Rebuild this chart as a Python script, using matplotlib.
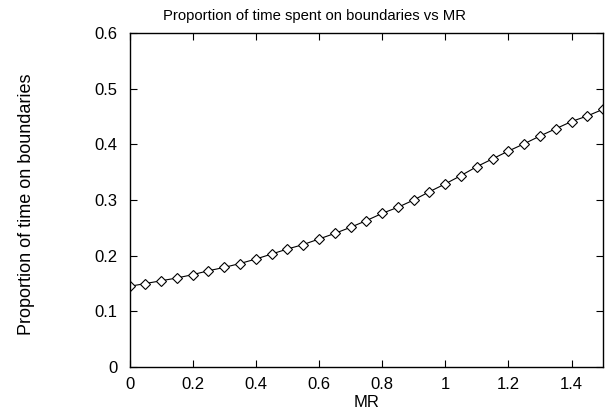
import matplotlib
matplotlib.use('Agg')
import matplotlib.pyplot as plt
import numpy as np

# MR values and measured proportion of time on boundaries
mr = [0.0, 0.05, 0.1, 0.15, 0.2, 0.25, 0.3, 0.35, 0.4, 0.45, 0.5,
      0.55, 0.6, 0.65, 0.7, 0.75, 0.8, 0.85, 0.9, 0.95, 1.0,
      1.05, 1.1, 1.15, 1.2, 1.25, 1.3, 1.35, 1.4, 1.45, 1.5]
proportion = [0.145, 0.150, 0.155, 0.160, 0.166, 0.173, 0.179, 0.186, 0.194, 0.203, 0.212,
              0.220, 0.230, 0.240, 0.251, 0.263, 0.276, 0.287, 0.300, 0.315, 0.329,
              0.344, 0.360, 0.374, 0.388, 0.401, 0.415, 0.428, 0.441, 0.451, 0.463]

xticks = [0, 0.2, 0.4, 0.6, 0.8, 1.0, 1.2, 1.4]
xtick_labels = ['0', '0.2', '0.4', '0.6', '0.8', '1', '1.2', '1.4']
yticks = [0, 0.1, 0.2, 0.3, 0.4, 0.5, 0.6]
ytick_labels = ['0', '0.1', '0.2', '0.3', '0.4', '0.5', '0.6']

plt.rcParams['font.family'] = ['Liberation Sans', 'DejaVu Sans']
plt.rcParams['font.size'] = 12

fig = plt.figure(figsize=(6.08, 4.12), dpi=100)
ax = fig.add_axes([0.213, 0.109, 0.779, 0.811])

ax.plot(mr, proportion, color='black', linewidth=0.8, marker='D',
        markersize=5.5, markerfacecolor='white', markeredgecolor='black',
        markeredgewidth=0.8)

ax.set_xlim(0, 1.5)
ax.set_ylim(0, 0.6)
ax.set_xticks(xticks)
ax.set_xticklabels(xtick_labels)
ax.set_yticks(yticks)
ax.set_yticklabels(ytick_labels)
ax.tick_params(direction='in', top=True, right=True, length=5, width=0.8,
               labelsize=12)
ax.tick_params(axis='x', pad=7)
ax.tick_params(axis='y', pad=8.5)
for s in ax.spines.values():
    s.set_linewidth(1.0)

# title sits centred on the figure, not on the axes
fig.text(0.517, 0.960, 'Proportion of time spent on boundaries vs MR',
         fontsize=10.7, ha='center', va='center')
ax.set_xlabel('MR', fontsize=12)
ax.xaxis.set_label_coords(0.5, -0.084)
ax.set_ylabel('Proportion of time on boundaries', fontsize=13)
ax.yaxis.set_label_coords(-0.20, 0.488)

fig.savefig('out.png', dpi=100)
